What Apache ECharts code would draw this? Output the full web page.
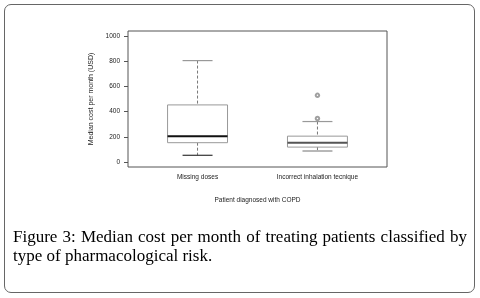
<!DOCTYPE html>
<html>
<head>
<meta charset="utf-8">
<title>Median cost per month</title>
<script src="https://cdn.jsdelivr.net/npm/echarts@6/dist/echarts.min.js"></script>
<style>
  html, body { margin: 0; padding: 0; background: #fff; }
  #wrap { position: relative; width: 480px; height: 298px; overflow: hidden; }
  #frame { position: absolute; left: 4px; top: 4px; width: 469px; height: 287px;
           border: 1.5px solid #666; border-radius: 7px; }
  #main { position: absolute; left: 0; top: 0; width: 480px; height: 298px; }
  #caption { position: absolute; left: 13px; top: 227px; width: 454px;
             font-family: "Liberation Serif", "DejaVu Serif", serif; font-size: 17px;
             line-height: 19px; color: #000; }
  #caption .l1 { text-align: justify; text-align-last: justify; white-space: nowrap; }
</style>
</head>
<body>
<div id="wrap">
  <div id="frame"></div>
  <div id="main"></div>
  <div id="caption">
    <div class="l1">Figure 3: Median cost per month of treating patients classified by</div>
    <div>type of pharmacological risk.</div>
  </div>
</div>
<script>
// categories (x positions 1, 2)
var categories = ['Missing doses', 'Incorrect inhalation tecnique'];
// box stats: [x, lower whisker, Q1, median, Q3, upper whisker]
var boxStats = [
  [1, 53, 153, 205, 453, 805],
  [2, 87, 118, 153, 205, 321]
];
// outliers: [x, value]
var outliers = [[2, 345], [2, 529]];
var yTicks = [0, 200, 400, 600, 800, 1000];

var myChart = echarts.init(document.getElementById('main'));

function renderBox(params, api) {
  var x = api.value(0);
  var pLo = api.coord([x, api.value(1)]);
  var pQ1 = api.coord([x, api.value(2)]);
  var pMed = api.coord([x, api.value(3)]);
  var pQ3 = api.coord([x, api.value(4)]);
  var pHi = api.coord([x, api.value(5)]);
  var half = api.size([0.25, 0])[0];
  var cap = half / 2;
  var cx = pMed[0];
  var medColor = params.dataIndex === 0 ? '#111' : '#555';
  var lowCap = params.dataIndex === 0 ? '#333' : '#888';
  return {
    type: 'group',
    children: [
      // whiskers
      { type: 'line', shape: { x1: cx, y1: pHi[1], x2: cx, y2: pQ3[1] },
        style: { stroke: '#777', lineWidth: 1, lineDash: [3, 2] } },
      { type: 'line', shape: { x1: cx, y1: pQ1[1], x2: cx, y2: pLo[1] },
        style: { stroke: '#777', lineWidth: 1, lineDash: [3, 2] } },
      // caps
      { type: 'line', shape: { x1: cx - cap, y1: pHi[1], x2: cx + cap, y2: pHi[1] },
        style: { stroke: '#999', lineWidth: 1.2 } },
      { type: 'line', shape: { x1: cx - cap, y1: pLo[1], x2: cx + cap, y2: pLo[1] },
        style: { stroke: lowCap, lineWidth: 1.2 } },
      // box
      { type: 'rect', shape: { x: cx - half, y: pQ3[1], width: half * 2, height: pQ1[1] - pQ3[1] },
        style: { fill: '#fff', stroke: '#999', lineWidth: 1 } },
      // median
      { type: 'line', shape: { x1: cx - half, y1: pMed[1], x2: cx + half, y2: pMed[1] },
        style: { stroke: medColor, lineWidth: 2 } }
    ]
  };
}

var option = {
  animation: false,
  grid: {
    left: 128, right: 93, top: 31, bottom: 131,
    show: true, borderColor: '#555', borderWidth: 1, backgroundColor: 'transparent'
  },
  xAxis: {
    type: 'value',
    min: 0.42, max: 2.58,
    splitLine: { show: false },
    axisLine: { show: false },
    axisTick: { show: false },
    axisLabel: {
      customValues: [1, 2],
      formatter: function (v) { return categories[Math.round(v) - 1]; },
      fontFamily: 'Liberation Sans', fontSize: 6.5, color: '#222', margin: 7
    },
    name: 'Patient diagnosed with COPD',
    nameLocation: 'middle',
    nameGap: 30,
    nameTextStyle: { fontFamily: 'Liberation Sans', fontSize: 6.5, color: '#222' }
  },
  yAxis: {
    type: 'value',
    min: -40, max: 1040,
    splitLine: { show: false },
    axisLine: { show: false },
    axisTick: { show: true, customValues: yTicks, length: 4, lineStyle: { color: '#555' } },
    axisLabel: {
      customValues: yTicks,
      formatter: function (v) { return String(v); },
      fontFamily: 'Liberation Sans', fontSize: 6.5, color: '#222', margin: 8
    },
    name: 'Median cost per month (USD)',
    nameLocation: 'middle',
    nameGap: 23,
    nameRotate: 90,
    nameTextStyle: { fontFamily: 'Liberation Sans', fontSize: 7, color: '#222' }
  },
  series: [
    {
      type: 'custom',
      renderItem: renderBox,
      encode: { x: 0, y: [1, 2, 3, 4, 5] },
      data: boxStats
    },
    {
      type: 'scatter',
      symbol: 'emptyCircle',
      symbolSize: 3.5,
      itemStyle: { color: '#888', borderWidth: 0.6 },
      data: outliers
    }
  ]
};

myChart.setOption(option);
</script>
</body>
</html>
